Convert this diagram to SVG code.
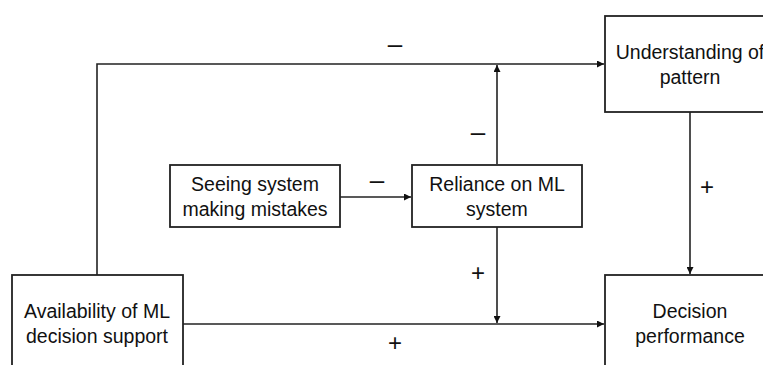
<svg xmlns="http://www.w3.org/2000/svg" width="763" height="365" viewBox="0 0 763 365">
<style>
.box{fill:#fff;stroke:#222;stroke-width:1.8}
.lbl{font-family:"Liberation Sans",Arial,sans-serif;font-size:19.5px;fill:#111;text-anchor:middle}
.sign{font-family:"Liberation Sans",Arial,sans-serif;font-size:24px;fill:#111;text-anchor:middle}
.minus{font-family:"Liberation Sans",Arial,sans-serif;font-size:26px;fill:#111;text-anchor:middle}
.edge{fill:none;stroke:#222;stroke-width:1.6}
</style>
<defs>
<marker id="arr" viewBox="0 0 10 10" refX="10" refY="5" markerWidth="7" markerHeight="7" markerUnits="userSpaceOnUse" orient="auto">
<path d="M0,0 L10,5 L0,10 z" fill="#111"/>
</marker>
</defs>
<rect width="763" height="365" fill="#fff"/>
<g id="connectors">
<path class="edge" d="M97,275 V64 H604" marker-end="url(#arr)"/>
<path class="edge" d="M497,164 V65" marker-end="url(#arr)"/>
<path class="edge" d="M340,197 H411" marker-end="url(#arr)"/>
<path class="edge" d="M497,227 V323" marker-end="url(#arr)"/>
<path class="edge" d="M183,324 H604" marker-end="url(#arr)"/>
<path class="edge" d="M690,112 V274" marker-end="url(#arr)"/>
<text class="minus" x="395" y="53">–</text>
<text class="minus" x="478" y="141">–</text>
<text class="minus" x="377" y="189">–</text>
<text class="sign" x="478" y="281">+</text>
<text class="sign" x="707" y="195">+</text>
<text class="sign" x="395" y="351">+</text>
</g>
<g id="availability">
<rect class="box" x="12" y="275" width="171" height="100"/>
<text class="lbl" x="97" y="318">Availability of ML</text>
<text class="lbl" x="97" y="343">decision support</text>
</g>
<g id="understanding">
<rect class="box" x="605" y="16" width="170" height="96"/>
<text class="lbl" x="690" y="59">Understanding of</text>
<text class="lbl" x="690" y="84">pattern</text>
</g>
<g id="seeing">
<rect class="box" x="170" y="165" width="170" height="62"/>
<text class="lbl" x="255" y="191">Seeing system</text>
<text class="lbl" x="255" y="216">making mistakes</text>
</g>
<g id="reliance">
<rect class="box" x="412" y="165" width="170" height="62"/>
<text class="lbl" x="497" y="191">Reliance on ML</text>
<text class="lbl" x="497" y="216">system</text>
</g>
<g id="decision">
<rect class="box" x="605" y="275" width="170" height="100"/>
<text class="lbl" x="690" y="318">Decision</text>
<text class="lbl" x="690" y="343">performance</text>
</g>
</svg>
